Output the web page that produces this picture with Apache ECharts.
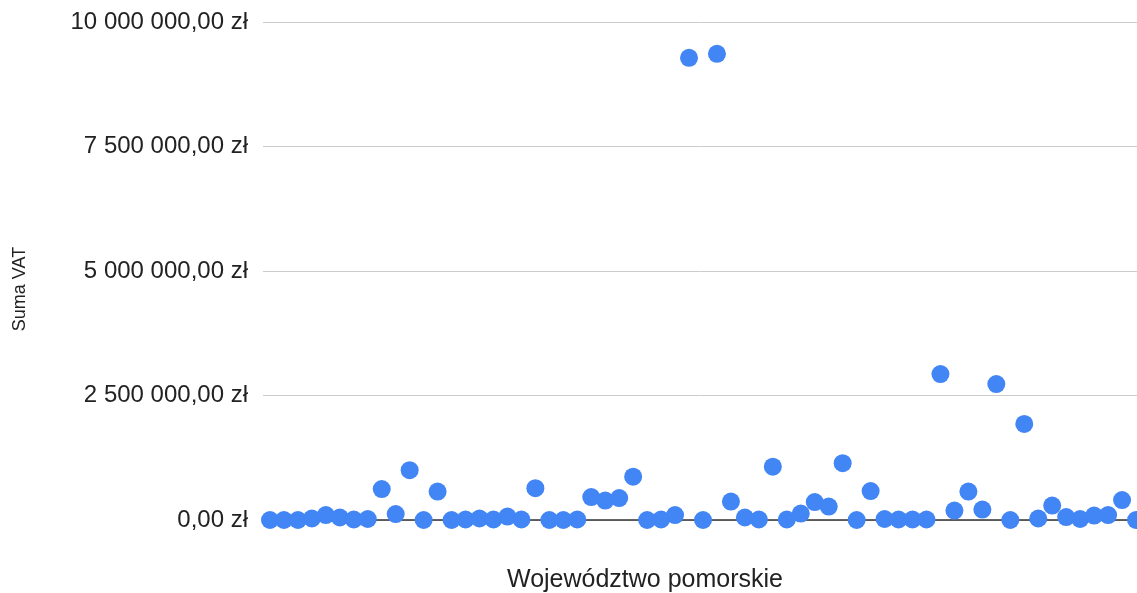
<!DOCTYPE html>
<html>
<head>
<meta charset="utf-8">
<script src="https://cdn.jsdelivr.net/npm/echarts@6/dist/echarts.min.js"></script>
<style>
  html, body { margin: 0; padding: 0; background: #fff; }
  #chart { width: 1137px; height: 593px; }
</style>
</head>
<body>
<div id="chart"></div>
<script>
// Suma VAT per entry, in zł
var vatValues = [
    0, 0, 0, 30000, 100000, 50000, 10000, 20000, 620000, 120000,
    1000000, 0, 570000, 0, 10000, 30000, 10000, 70000, 10000, 640000,
    0, 0, 10000, 460000, 390000, 440000, 870000, 0, 10000, 100000,
    9280000, 0, 9360000, 370000, 50000, 10000, 1070000, 10000, 130000, 360000,
    270000, 1140000, 0, 580000, 20000, 10000, 10000, 10000, 2930000, 190000,
    570000, 210000, 2730000, 0, 1930000, 30000, 290000, 60000, 20000, 90000,
    100000, 400000, 0
];
var categories = vatValues.map(function (v, i) { return String(i + 1); });
var yTicks = [0, 2500000, 5000000, 7500000, 10000000];

var xTitle = 'Województwo pomorskie';
var yTitle = 'Suma VAT';

const fontFamily = 'Liberation Sans, Arial, sans-serif';

const formatZl = function (v) {
    var s = String(Math.round(v)).replace(/\B(?=(\d{3})+(?!\d))/g, ' ');
    return s + ',00 zł';
};

var chart = echarts.init(document.getElementById('chart'));
chart.setOption({
    animation: false,
    textStyle: { fontFamily: fontFamily },
    // plot runs past the right edge, last point is cut in half
    grid: {
        left: 263, width: 880, top: 22, bottom: 73,
        containLabel: false, outerBoundsMode: 'none'
    },
    xAxis: {
        type: 'category',
        data: categories,
        boundaryGap: true,
        axisLine: { lineStyle: { color: '#333', width: 1.5 } },
        axisTick: { show: false },
        axisLabel: { show: false },
        splitLine: { show: false }
    },
    yAxis: {
        type: 'value',
        min: yTicks[0],
        max: yTicks[yTicks.length - 1],
        interval: yTicks[1] - yTicks[0],
        axisLine: { show: false },
        axisTick: { show: false },
        axisLabel: {
            formatter: formatZl,
            color: '#222',
            fontSize: 24,
            margin: 15
        },
        splitLine: { lineStyle: { color: '#cccccc', width: 1 } }
    },
    graphic: [
        {
            type: 'text',
            x: 645,
            y: 580,
            style: {
                text: xTitle, fill: '#222', fontSize: 25, fontFamily: fontFamily,
                align: 'center', verticalAlign: 'middle'
            }
        },
        {
            type: 'text',
            x: 20,
            y: 289,
            rotation: Math.PI / 2,
            style: {
                text: yTitle, fill: '#222', fontSize: 18, fontFamily: fontFamily,
                align: 'center', verticalAlign: 'middle'
            }
        }
    ],
    series: [{
        type: 'scatter',
        data: vatValues,
        symbolSize: 18,
        itemStyle: { color: '#4285f4', opacity: 1 },
        clip: false
    }]
});
</script>
</body>
</html>
